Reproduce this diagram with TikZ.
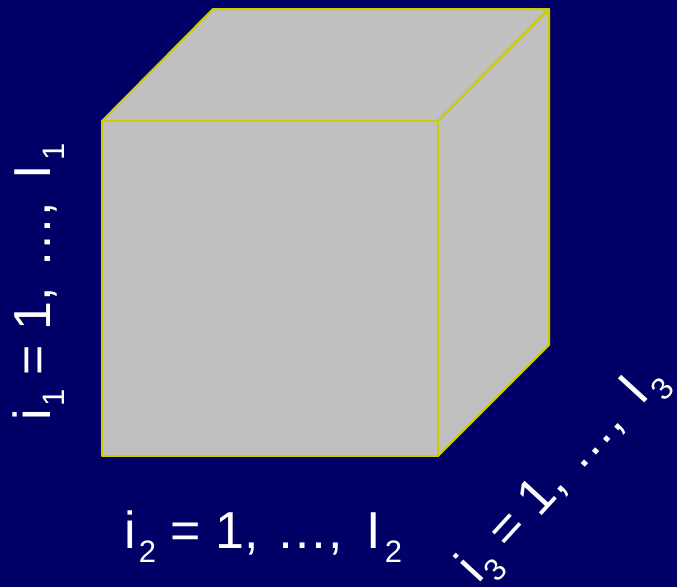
\documentclass[tikz,border=0pt]{standalone}
\usepackage{fontspec}
\setmainfont{Liberation Sans}
\usepackage{xcolor}
\usetikzlibrary{positioning}
\definecolor{navy}{HTML}{000066}
\definecolor{cubefill}{HTML}{C0C0C0}
\definecolor{edge}{HTML}{CCCC00}
\newcommand{\idx}[1]{\raisebox{-14pt}{\fontsize{31}{31}\selectfont #1}}
\newcommand{\idxrange}[1]{i\hspace{2.5pt}\idx{#1} = 1,\hspace{3.5pt} …,\hspace{9pt} I\hspace{4pt}\idx{#1}}
\tikzset{
  face/.style={draw=edge,fill=cubefill,line width=2pt,line join=round},
  rangelabel/.style={text=white,font=\fontsize{52}{60}\selectfont,inner sep=0pt,anchor=base west}
}
\begin{document}
\begin{tikzpicture}[x=1pt,y=-1pt]
  \fill[navy] (0,0) rectangle (677,587);
  \useasboundingbox (0,0) rectangle (677,587);
  % cube corners
  \coordinate (fa) at (102,121);
  \coordinate (fb) at (438,121);
  \coordinate (fc) at (438,456);
  \coordinate (fd) at (102,456);
  \coordinate (ba) at (213,9);
  \coordinate (bb) at (549,9);
  \coordinate (bc) at (549,345);
  % faces
  \draw[face] (fa) -- (ba) -- (bb) -- (fb) -- cycle;
  \draw[face] (fb) -- (bb) -- (bc) -- (fc) -- cycle;
  \draw[face] (fa) -- (fb) -- (fc) -- (fd) -- cycle;
  % index ranges
  \node[rangelabel,rotate=90] (dim1) at (50,421) {\idxrange{1}};
  \node[rangelabel] (dim2) at (124.5,548) {\idxrange{2}};
  \node[rangelabel,rotate=47.5] (dim3) at (478,585) {\idxrange{3}};
\end{tikzpicture}
\end{document}
